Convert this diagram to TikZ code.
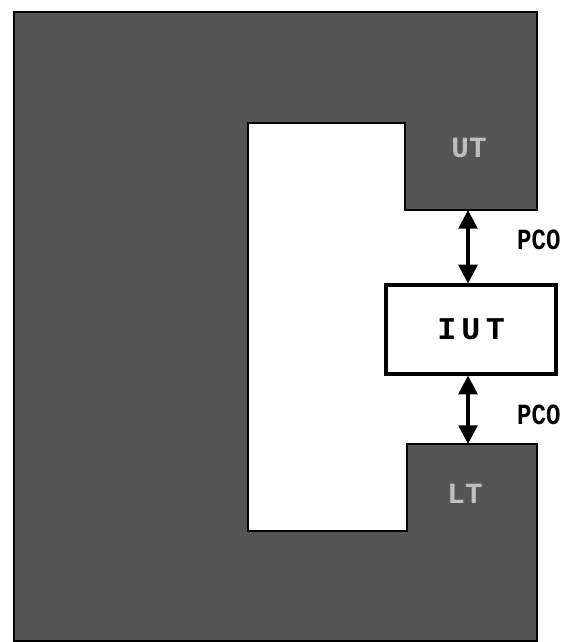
\documentclass[tikz,border=0pt]{standalone}
\usepackage{fontspec}
\setmonofont{Liberation Mono}
\usetikzlibrary{arrows.meta, positioning}
\definecolor{TesterGray}{RGB}{85,85,85}

\begin{document}
\begin{tikzpicture}[x=0.03cm, y=-0.03cm,
  tester/.style={draw=black, line width=1.8pt, fill=TesterGray},
  iutbox/.style={draw=black, line width=2.6pt, fill=white, minimum width=5.1cm,
                 minimum height=2.67cm, font=\ttfamily\bfseries\fontsize{27}{30}\selectfont},
  arr/.style={{Triangle[length=16pt,width=16pt]}-{Triangle[length=16pt,width=16pt]}, line width=3pt},
  lbl/.style={font=\ttfamily\bfseries\fontsize{25}{28}\selectfont},
  tname/.style={font=\ttfamily\bfseries\fontsize{25}{27}\selectfont, text=white!75!black},
]
\useasboundingbox (0,0) rectangle (567,642);
% the two testers as one C-shaped block
\draw[tester] (14,12) -- (537,12) -- (537,210) -- (405,210) -- (405,123)
  -- (248,123) -- (248,531) -- (407,531) -- (407,444) -- (537,444)
  -- (537,641) -- (14,641) -- cycle;
\node[tname] (ut) at (469,148) {UT};
\node[tname] (lt) at (465,494) {LT};

\node[iutbox] (iut) at (471,329.5) {I\,U\,T};
\coordinate (utb) at (468,210);
\coordinate (ltt) at (468,444);
\draw[arr] (utb) -- (iut.north -| utb);
\draw[arr] (iut.south -| ltt) -- (ltt);

\node[lbl, anchor=west, inner sep=0pt] (pco1) at (517,240) {\scalebox{0.82}[1]{PCO}};
\node[lbl, anchor=west, inner sep=0pt] (pco2) at (517,415) {\scalebox{0.82}[1]{PCO}};
\end{tikzpicture}
\end{document}
